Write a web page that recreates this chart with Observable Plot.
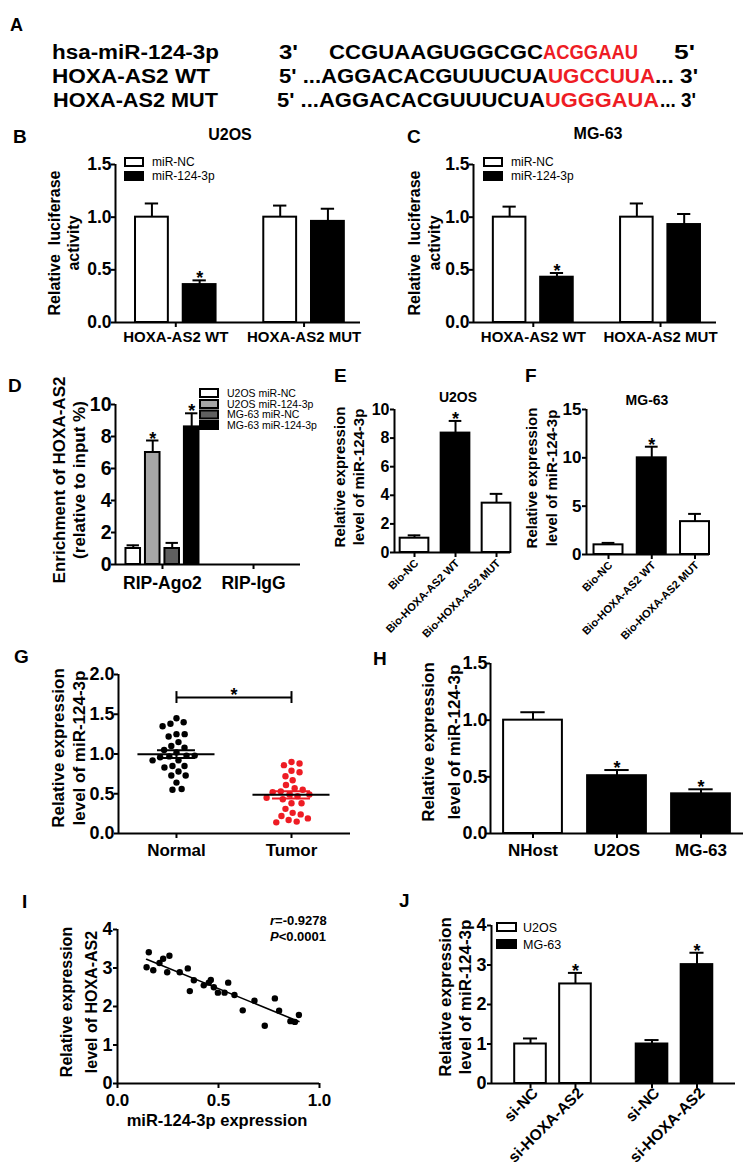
<!DOCTYPE html>
<html><head><meta charset="utf-8">
<script src="https://cdn.jsdelivr.net/npm/d3@7"></script>
<script src="https://cdn.jsdelivr.net/npm/@observablehq/plot@0.6"></script>
<style>
html,body{margin:0;padding:0;background:#fff;}
#fig{position:relative;width:746px;height:1169px;overflow:hidden;background:#fff;}
</style></head><body><div id="fig"></div>
<script>
// ================= DATA =================
// A: sequences
const seqLabels = ["hsa-miR-124-3p", "HOXA-AS2 WT", "HOXA-AS2 MUT"];
const seqSegments = [
  [["3'", 0], ["CCGUAAGUGGCGC", 0], ["ACGGAAU", 1], ["5'", 0]],
  [["5' ...AGGACACGUUUCUA", 0], ["UGCCUUA", 1], ["... 3'", 0]],
  [["5' ...AGGACACGUUUCUA", 0], ["UGGGAUA", 1], ["... 3'", 0]]
];
// B / C: luciferase
const lucGroups = ["HOXA-AS2 WT", "HOXA-AS2 MUT"];
const lucSeries = ["miR-NC", "miR-124-3p"];
const u2osLucMean = [1.00, 0.36, 1.00, 0.96];
const u2osLucSem  = [0.13, 0.04, 0.11, 0.12];
const u2osLucSig  = [false, true, false, false];
const mg63LucMean = [1.00, 0.43, 1.00, 0.93];
const mg63LucSem  = [0.10, 0.04, 0.13, 0.10];
const mg63LucSig  = [false, true, false, false];
const lucTicks = [0, 0.5, 1.0, 1.5];
// D: RIP
const ripGroups = ["RIP-Ago2", "RIP-IgG"];
const ripSeries = ["U2OS miR-NC", "U2OS miR-124-3p", "MG-63 miR-NC", "MG-63 miR-124-3p"];
const ripMean = [1.0, 7.0, 1.0, 8.6, 0, 0, 0, 0];
const ripSem  = [0.2, 0.75, 0.35, 0.85, 0, 0, 0, 0];
const ripSig  = [false, true, false, true, false, false, false, false];
const ripTicks = [0, 2, 4, 6, 8, 10];
// E / F: biotin pull-down
const bioCats = ["Bio-NC", "Bio-HOXA-AS2 WT", "Bio-HOXA-AS2 MUT"];
const u2osBioMean = [1.0, 8.35, 3.45];
const u2osBioSem  = [0.2, 0.85, 0.65];
const mg63BioMean = [1.0, 10.0, 3.4];
const mg63BioSem  = [0.2, 1.15, 0.8];
const bioSig = [false, true, false];
const u2osBioTicks = [0, 2, 4, 6, 8, 10];
const mg63BioTicks = [0, 5, 10, 15];
// G: tissues
const tissueCats = ["Normal", "Tumor"];
const normalExpr = [1.45,1.38,1.35,1.40,1.25,1.22,1.25,1.15,1.08,1.10,1.02,1.05,0.96,0.98,0.97,0.98,0.92,0.92,0.83,0.85,0.85,0.78,0.73,0.73,0.64,0.55,0.56];
const tumorExpr  = [0.88,0.86,0.90,0.79,0.77,0.72,0.67,0.61,0.57,0.53,0.52,0.55,0.49,0.49,0.43,0.45,0.38,0.38,0.31,0.26,0.22,0.24,0.17,0.14,0.15,0.19,0.47];
const tissueSigBracket = {from: 0, to: 1, y: 1.71, cap: 0.075};
const tissueTicks = [0, 0.5, 1.0, 1.5, 2.0];
// H: cell lines
const cellCats = ["NHost", "U2OS", "MG-63"];
const cellMean = [1.0, 0.51, 0.35];
const cellSem  = [0.07, 0.05, 0.04];
const cellSig  = [false, true, true];
const cellTicks = [0, 0.5, 1.0, 1.5];
// I: correlation
const corrMiR  = [0.155,0.144,0.177,0.208,0.226,0.257,0.246,0.308,0.348,0.358,0.378,0.427,0.452,0.462,0.477,0.497,0.530,0.548,0.579,0.620,0.678,0.729,0.779,0.800,0.856,0.878,0.898];
const corrHOXA = [3.41,3.02,2.94,3.13,3.24,3.32,2.89,2.89,2.99,2.40,2.68,2.55,2.62,2.69,2.50,2.36,2.36,2.62,2.30,1.90,2.15,1.50,2.21,1.89,1.62,1.60,1.78];
const corrR = "-0.9278", corrP = "0.0001";
const corrXTicks = [0, 0.5, 1.0];
const corrYTicks = [0, 1, 2, 3, 4];
// J: knockdown
const siGroups = ["U2OS", "MG-63"];
const siCats = ["si-NC", "si-HOXA-AS2"];
const siMean = [1.0, 2.52, 1.0, 3.01];
const siSem  = [0.14, 0.28, 0.10, 0.30];
const siSig  = [false, true, false, true];
const siTicks = [0, 1, 2, 3, 4];

// ================= LAYOUT / HELPERS =================
const W = 746, H = 1169;
const FONT = '"Liberation Sans", Arial, Helvetica, sans-serif';
const RED = "#ee1c24";
const fig = document.getElementById("fig");
const f1 = d3.format(".1f"), f0 = d3.format("d");

function makePlot(frame, m, xDom, yDom, marksFn, opts = {}) {
  const width = frame.R - frame.L + m.l + m.r;
  const height = frame.B - frame.T + m.t + m.b;
  const pxX = (frame.R - frame.L) / (xDom[1] - xDom[0]);
  const pxY = (frame.B - frame.T) / (yDom[1] - yDom[0]);
  const svg = Plot.plot({
    width, height,
    marginLeft: m.l, marginRight: m.r, marginTop: m.t, marginBottom: m.b,
    style: {fontFamily: FONT, fontSize: "14px", fontWeight: "bold", background: "transparent", overflow: "visible", color: "black"},
    x: {domain: xDom, axis: null},
    y: {domain: yDom, axis: null},
    ...opts,
    marks: marksFn(pxX, pxY)
  });
  svg.style.position = "absolute";
  svg.style.left = (frame.L - m.l) + "px";
  svg.style.top = (frame.T - m.t) + "px";
  svg.style.maxWidth = "none";
  fig.appendChild(svg);
  return svg;
}

// axis drawn with Plot marks (lines, ticks and tick labels)
function axisMarks(a, pxX, pxY) {
  const {xmin, ymin = 0, xTicks, xFmt, yTicks, yFmt, xFont, yFont, xRotate = 0, xGap = 5, yGap = 5, xShift = 2} = a;
  const marks = [
    Plot.ruleY([ymin], {stroke: "black", strokeWidth: 2}),
    Plot.ruleX([xmin], {stroke: "black", strokeWidth: 2}),
    Plot.ruleY(yTicks, {y: d => d, x1: xmin, x2: xmin - 4 / pxX, stroke: "black", strokeWidth: 2}),
    Plot.text(yTicks, {x: xmin, y: d => d, text: yFmt, textAnchor: "end", dx: -yGap, fontSize: yFont, fontWeight: "bold"}),
    Plot.ruleX(xTicks, {x: d => d, y1: ymin, y2: ymin - 5 / pxY, stroke: "black", strokeWidth: 2})
  ];
  if (xRotate) {
    marks.push(Plot.text(xTicks, {x: d => d, y: ymin, text: xFmt, rotate: xRotate, textAnchor: "end", lineAnchor: "middle", dy: xGap, dx: xShift, fontSize: xFont, fontWeight: "bold"}));
  } else {
    marks.push(Plot.text(xTicks, {x: d => d, y: ymin, text: xFmt, lineAnchor: "top", dy: xGap, fontSize: xFont, fontWeight: "bold"}));
  }
  return marks;
}

function groupedRows(groups, series, mean, sem, sig, fills, step) {
  const rows = [];
  groups.forEach((g, gi) => series.forEach((s, si) => {
    const k = gi * series.length + si;
    rows.push({g, s, xc: gi + (si - (series.length - 1) / 2) * step, v: mean[k], e: sem[k], sig: sig[k], fill: fills(gi, si)});
  }));
  return rows;
}
function simpleRows(cats, mean, sem, sig, fills) {
  return cats.map((c, i) => ({g: c, s: c, xc: i, v: mean[i], e: sem[i], sig: sig[i], fill: fills[i]}));
}

function barMarks(rows, hw, cap, star = 18) {
  const er = rows.filter(d => d.e > 0);
  return [
    Plot.rectY(rows.filter(d => d.v > 0), {x1: d => d.xc - hw, x2: d => d.xc + hw, y1: 0, y2: "v", fill: "fill", stroke: "black", strokeWidth: 2}),
    Plot.ruleX(er, {x: "xc", y1: "v", y2: d => d.v + d.e, stroke: "black", strokeWidth: 2}),
    Plot.ruleY(er, {x1: d => d.xc - cap, x2: d => d.xc + cap, y: d => d.v + d.e, stroke: "black", strokeWidth: 2}),
    Plot.text(rows.filter(d => d.sig), {x: "xc", y: d => d.v + d.e, text: () => "*", fontSize: star, fontWeight: "bold", lineAnchor: "bottom", dy: 4})
  ];
}

// ================= PANEL B & C =================
function lucPanel(frame, mean, sem, sig) {
  const rows = groupedRows(lucGroups, lucSeries, mean, sem, sig, (gi, si) => ["white", "black"][si], 0.372);
  const xDom = [-0.47, 1.44];
  makePlot(frame, {l: 45, r: 10, t: 12, b: 30}, xDom, [0, 1.5], (pxX, pxY) => [
    ...barMarks(rows, 0.128, 0.052),
    ...axisMarks({xmin: xDom[0], xTicks: [0, 1], xFmt: i => lucGroups[i], yTicks: lucTicks, yFmt: f1, xFont: 15, yFont: 17.5, xGap: 9, yGap: 4}, pxX, pxY)
  ], {color: {type: "identity"}});
}
lucPanel({L: 115, R: 360, T: 164, B: 322}, u2osLucMean, u2osLucSem, u2osLucSig);
lucPanel({L: 473, R: 716, T: 164, B: 322}, mg63LucMean, mg63LucSem, mg63LucSig);

// ================= PANEL D =================
{
  const fills = ["white", "#a6a6a6", "#5f5f5f", "black"];
  const rows = groupedRows(ripGroups, ripSeries, ripMean, ripSem, ripSig, (gi, si) => fills[si], 0.214);
  const xDom = [-0.516, 1.516];
  makePlot({L: 115, R: 300, T: 404, B: 564}, {l: 45, r: 10, t: 12, b: 35}, xDom, [0, 10], (pxX, pxY) => [
    ...barMarks(rows, 0.08, 0.068),
    ...axisMarks({xmin: xDom[0], xTicks: [0, 1], xFmt: i => ripGroups[i], yTicks: ripTicks, yFmt: f0, xFont: 17.5, yFont: 19.5, xGap: 12, yGap: 4}, pxX, pxY)
  ], {color: {type: "identity"}});
}

// ================= PANEL E & F =================
function bioPanel(frame, mean, sem, xDom, hw, yDom, yTicks, yFont) {
  const rows = simpleRows(bioCats, mean, sem, bioSig, ["white", "black", "white"]);
  makePlot(frame, {l: 32, r: 10, t: 12, b: 90}, xDom, yDom, (pxX, pxY) => [
    ...barMarks(rows, hw, hw * 0.44),
    ...axisMarks({xmin: xDom[0], xTicks: [0, 1, 2], xFmt: i => bioCats[i], yTicks, yFmt: f0, xFont: 11, yFont, xRotate: -45, xGap: 9, yGap: 5}, pxX, pxY)
  ], {color: {type: "identity"}});
}
bioPanel({L: 394, R: 510, T: 409, B: 552}, u2osBioMean, u2osBioSem, [-0.488, 2.341], 0.35, [0, 10], u2osBioTicks, 16);
bioPanel({L: 586, R: 709, T: 409, B: 554}, mg63BioMean, mg63BioSem, [-0.509, 2.335], 0.335, [0, 15], mg63BioTicks, 17);

// ================= PANEL G =================
{
  const frame = {L: 118, R: 350, T: 674, B: 833};
  const xDom = [-0.504, 1.513], yDom = [0, 2];
  const pxXg = (frame.R - frame.L) / (xDom[1] - xDom[0]);
  const pxYg = (frame.B - frame.T) / (yDom[1] - yDom[0]);
  function swarm(vals, diam) {
    const placed = [], out = new Array(vals.length);
    const order = d3.range(vals.length).sort((a, b) => d3.descending(vals[a], vals[b]));
    for (const i of order) {
      const y = vals[i] * pxYg;
      const near = placed.filter(p => Math.abs(p.y - y) < diam);
      const cands = [0];
      for (const p of near) { const dx = Math.sqrt(diam * diam - (p.y - y) ** 2); cands.push(p.x + dx, p.x - dx); }
      cands.sort((a, b) => Math.abs(a) - Math.abs(b));
      const x = cands.find(c => near.every(p => (p.x - c) ** 2 + (p.y - y) ** 2 >= diam * diam - 1e-6));
      placed.push({x, y}); out[i] = x;
    }
    return out;
  }
  const groups = [normalExpr, tumorExpr];
  const colors = ["black", RED];
  const pts = [], stats = [];
  groups.forEach((vals, gi) => {
    const off = swarm(vals, 8.2);
    vals.forEach((v, k) => pts.push({x: gi + off[k] / pxXg, v, c: colors[gi]}));
    const mean = d3.mean(vals), sem = d3.deviation(vals) / Math.sqrt(vals.length);
    stats.push({g: gi, mean, lo: mean - sem, hi: mean + sem, c: colors[gi]});
  });
  const mw = 0.335, cw = 0.165, b = tissueSigBracket;
  makePlot(frame, {l: 45, r: 10, t: 12, b: 30}, xDom, yDom, (pxX, pxY) => [
    Plot.dot(pts, {x: "x", y: "v", r: 3.2, fill: "c"}),
    Plot.ruleX(stats, {x: "g", y1: "lo", y2: "hi", stroke: "c", strokeWidth: 2}),
    Plot.ruleY(stats, {x1: d => d.g - cw, x2: d => d.g + cw, y: "lo", stroke: "c", strokeWidth: 2}),
    Plot.ruleY(stats, {x1: d => d.g - cw, x2: d => d.g + cw, y: "hi", stroke: "c", strokeWidth: 2}),
    Plot.ruleY(stats, {x1: d => d.g - mw, x2: d => d.g + mw, y: "mean", stroke: "black", strokeWidth: 2}),
    Plot.ruleY([b], {x1: "from", x2: "to", y: "y", stroke: "black", strokeWidth: 2}),
    Plot.ruleX([b.from, b.to], {x: d => d, y1: b.y - b.cap, y2: b.y + b.cap, stroke: "black", strokeWidth: 2}),
    Plot.text([b], {x: d => (d.from + d.to) / 2, y: "y", text: () => "*", fontSize: 18, fontWeight: "bold", lineAnchor: "bottom", dy: 3}),
    ...axisMarks({xmin: xDom[0], xTicks: [0, 1], xFmt: i => tissueCats[i], yTicks: tissueTicks, yFmt: f1, xFont: 17, yFont: 18, xGap: 10, yGap: 4}, pxX, pxY)
  ], {color: {type: "identity"}});
}

// ================= PANEL H =================
{
  const rows = simpleRows(cellCats, cellMean, cellSem, cellSig, ["white", "black", "black"]);
  const xDom = [-0.506, 2.506];
  makePlot({L: 490, R: 743, T: 663, B: 833}, {l: 40, r: 3, t: 12, b: 30}, xDom, [0, 1.5], (pxX, pxY) => [
    ...barMarks(rows, 0.35, 0.145),
    ...axisMarks({xmin: xDom[0], xTicks: [0, 1, 2], xFmt: i => cellCats[i], yTicks: cellTicks, yFmt: f1, xFont: 17, yFont: 18, xGap: 10, yGap: 3}, pxX, pxY)
  ], {color: {type: "identity"}});
}

// ================= PANEL I =================
{
  const pts = corrMiR.map((x, i) => ({x, y: corrHOXA[i]}));
  makePlot({L: 117, R: 319, T: 929, B: 1083}, {l: 25, r: 15, t: 12, b: 30}, [0, 1], [0, 4], (pxX, pxY) => [
    Plot.linearRegressionY(pts, {x: "x", y: "y", ci: 0, stroke: "black", strokeWidth: 1.6}),
    Plot.dot(pts, {x: "x", y: "y", r: 3.2, fill: "black"}),
    ...axisMarks({xmin: 0, xTicks: corrXTicks, xFmt: f1, yTicks: corrYTicks, yFmt: f0, xFont: 17, yFont: 18, xGap: 10, yGap: 5}, pxX, pxY)
  ]);
}

// ================= PANEL J =================
{
  const rows = groupedRows(siGroups, siCats, siMean, siSem, siSig, (gi, si) => ["white", "black"][gi], 0.37);
  const xDom = [-0.506, 1.502];
  const lab = new Map(rows.map(d => [d.xc, d.s]));
  makePlot({L: 491, R: 735, T: 925, B: 1083}, {l: 25, r: 10, t: 12, b: 80}, xDom, [0, 4], (pxX, pxY) => [
    ...barMarks(rows, 0.13, 0.058),
    ...axisMarks({xmin: xDom[0], xTicks: rows.map(d => d.xc), xFmt: v => lab.get(v), yTicks: siTicks, yFmt: f0, xFont: 15.5, yFont: 18, xRotate: -45, xGap: 7, xShift: 5, yGap: 5}, pxX, pxY)
  ], {color: {type: "identity"}});
}

// ================= OVERLAY TEXT =================
const ov = d3.select(fig).append("svg")
  .attr("width", W).attr("height", H)
  .style("position", "absolute").style("left", "0px").style("top", "0px")
  .attr("font-family", FONT);

function T(x, y, s, o = {}) {
  const t = ov.append("text").attr("x", x).attr("y", y)
    .attr("font-size", o.size || 14).attr("font-weight", o.weight || "bold")
    .attr("text-anchor", o.anchor || "start").attr("fill", o.fill || "black")
    .style("white-space", "pre").text(s);
  if (o.len) t.attr("textLength", o.len).attr("lengthAdjust", "spacingAndGlyphs");
  if (o.rotate) t.attr("transform", `rotate(${o.rotate},${x},${y})`);
  return t;
}
function rotLabel(baselines, cy, lines, size) {
  lines.forEach((s, i) => T(baselines[i], cy, s, {size, anchor: "middle", rotate: -90}));
}
function legend(x, tops, labels, fills, size, bw, bh, tx) {
  labels.forEach((l, i) => {
    ov.append("rect").attr("x", x).attr("y", tops[i]).attr("width", bw).attr("height", bh)
      .attr("fill", fills[i]).attr("stroke", "black").attr("stroke-width", 2);
    T(tx, tops[i] + bh / 2 + size * 0.36, l, {size, weight: "normal"});
  });
}

// Panel letters
[["A", 10, 31, 18], ["B", 13, 143, 19], ["C", 407, 143, 19], ["D", 8, 392, 19], ["E", 334, 382, 19], ["F", 525, 382, 19],
 ["G", 14, 663, 19], ["H", 373, 665, 19], ["I", 22, 908, 19], ["J", 399, 907, 19]]
  .forEach(([s, x, y, f]) => T(x, y, s, {size: f}));

// Panel A sequences
const seqY = [59, 83, 107];
const nameLayout = [[52, 167], [52, 158], [53, 165]];
const segLayout = [
  [[279, 19], [329, 214], [543, 95], [674, 21]],
  [[279, 269], [548, 107], [655, 43]],
  [[277, 268], [545, 114], [660, 36]]
];
seqLabels.forEach((name, i) => {
  T(nameLayout[i][0], seqY[i], name, {size: 20, len: nameLayout[i][1]});
  seqSegments[i].forEach(([s, red], j) => T(segLayout[i][j][0], seqY[i], s, {size: 20, len: segLayout[i][j][1], fill: red ? RED : "black"}));
});

// Titles
T(230, 140, "U2OS", {size: 16, anchor: "middle"});
T(598, 139, "MG-63", {size: 16, anchor: "middle"});
T(458, 402, "U2OS", {size: 14, anchor: "middle"});
T(647, 405, "MG-63", {size: 14, anchor: "middle"});

// Y labels
rotLabel([60, 79], 243, ["Relative  luciferase", "activity"], 16);
rotLabel([420, 440], 243, ["Relative  luciferase", "activity"], 16);
rotLabel([65, 85], 480, ["Enrichment of HOXA-AS2", "(relative to input %)"], 17);
rotLabel([345, 364], 477, ["Relative expression", "level of miR-124-3p"], 15);
rotLabel([537, 557], 478, ["Relative expression", "level of miR-124-3p"], 15);
rotLabel([64, 85], 748, ["Relative expression", "level of miR-124-3p"], 17);
rotLabel([434, 460], 742, ["Relative expression", "level of miR-124-3p"], 17);
rotLabel([72, 97], 1002, ["Relative expression", "level of HOXA-AS2"], 16);
rotLabel([451, 471], 997, ["Relative expression", "level of miR-124-3p"], 17);

// X label I
T(217, 1126, "miR-124-3p expression", {size: 16.5, anchor: "middle"});

// Stats I
{
  const t1 = ov.append("text").attr("x", 270).attr("y", 925).attr("font-size", 13).attr("font-weight", "bold");
  t1.append("tspan").attr("font-style", "italic").text("r");
  t1.append("tspan").text("=" + corrR);
  const t2 = ov.append("text").attr("x", 270).attr("y", 941).attr("font-size", 13).attr("font-weight", "bold");
  t2.append("tspan").attr("font-style", "italic").text("P");
  t2.append("tspan").text("<" + corrP);
}

// Legends
legend(125, [158, 172], lucSeries, ["white", "black"], 12, 18, 8, 152);
legend(484, [158, 172], lucSeries, ["white", "black"], 12, 18, 8, 511);
legend(200, [389, 400, 410.5, 421], ripSeries, ["white", "#a6a6a6", "#5f5f5f", "black"], 10.5, 18, 8, 227);
legend(497, [923, 940], siGroups, ["white", "black"], 12.5, 19, 8, 523);
</script>
</body></html>
